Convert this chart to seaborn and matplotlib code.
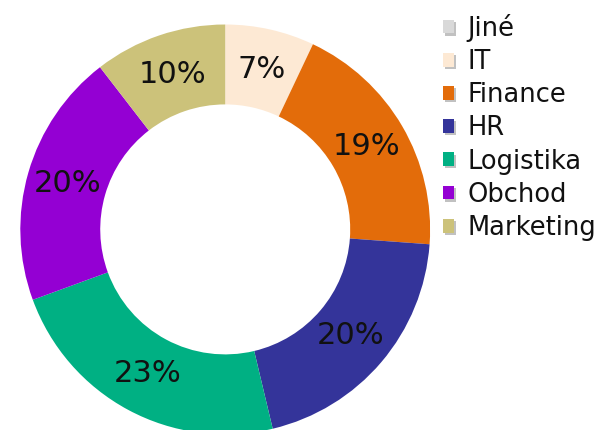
import seaborn as sns
import matplotlib
matplotlib.use("Agg")
from matplotlib import pyplot as plt
from matplotlib import patheffects as pe
from matplotlib.patches import Patch

sns.set_style("white")
plt.rcParams['font.family'] = ['DejaVu Sans']

# Departments, share of staff (%), clockwise from 12 o'clock
labels = ["Jiné", "IT", "Finance", "HR", "Logistika", "Obchod", "Marketing"]
values = [0, 7, 19, 20, 23, 20, 10.4]
colors = ["#d9d9d9", "#fde9d4", "#e36c0a", "#34349a", "#00b083", "#9400d3", "#ccc27a"]
palette = sns.color_palette(colors)

fig = plt.figure(figsize=(6.12, 4.3), dpi=100)
ax = fig.add_axes([0.033, -0.01, 0.67, 0.953])


def pct(p):
    if p < 1:
        return ""
    return "%d%%" % round(p)


wedges, texts, autotexts = ax.pie(
    values, colors=palette, startangle=90, counterclock=False,
    autopct=pct, pctdistance=0.8,
    wedgeprops=dict(width=0.39, linewidth=0),
    textprops=dict(fontsize=22, color="#111111"))
ax.set_xlim(-1, 1)
ax.set_ylim(-1, 1)
ax.set_aspect("equal")
ax.axis("off")

# Legend with little shadowed squares
shadow = [pe.SimplePatchShadow(offset=(1.5, -1.5), shadow_rgbFace="#999999", alpha=0.6), pe.Normal()]
handles = [Patch(facecolor=c, edgecolor="none", path_effects=shadow) for c in colors]
leg = fig.legend(handles, labels, loc="upper left", bbox_to_anchor=(0.715, 0.98),
                 frameon=False, fontsize=18.5, handlelength=0.45, handleheight=0.45,
                 handletextpad=0.5, labelspacing=0.28, borderaxespad=0, borderpad=0.2,
                 labelcolor="#111111")

plt.savefig("out.png", dpi=100)
plt.close()
